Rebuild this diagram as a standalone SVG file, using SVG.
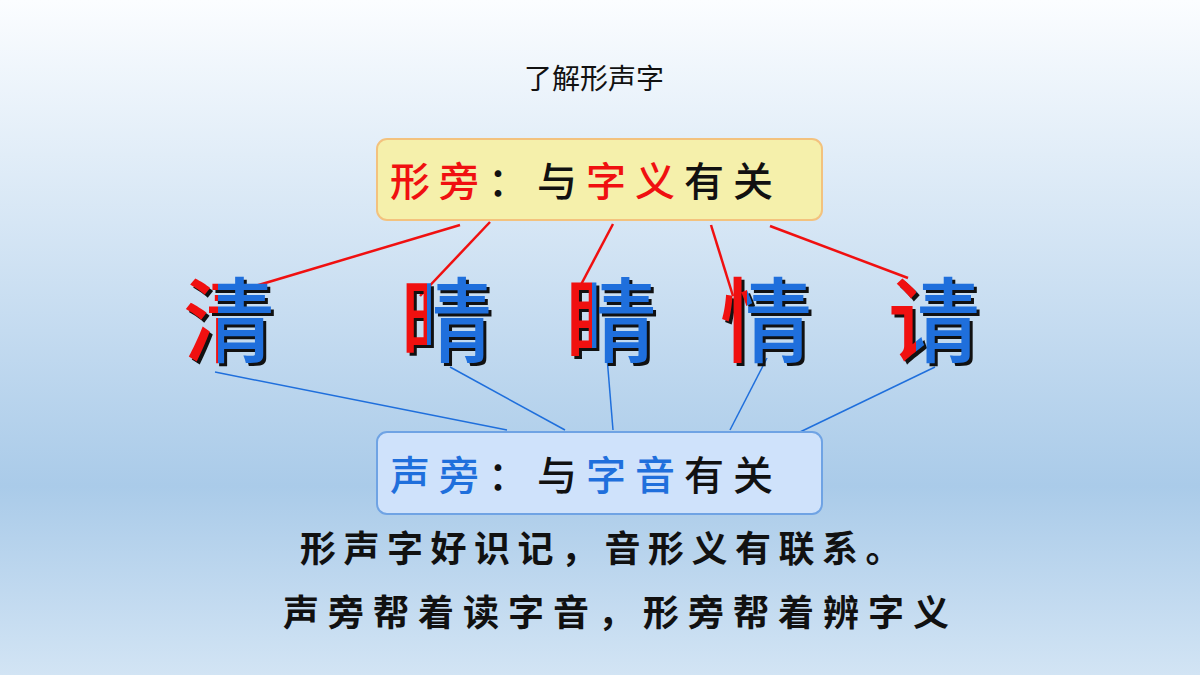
<svg xmlns="http://www.w3.org/2000/svg" width="1200" height="675" viewBox="0 0 1200 675">
<defs>
<linearGradient id="bg" x1="0" y1="0" x2="0" y2="1">
<stop offset="0" stop-color="#fbfdff"/><stop offset="0.72" stop-color="#aacbe9"/><stop offset="1" stop-color="#d2e4f4"/>
</linearGradient>
<clipPath id="c1l"><rect x="170" y="250" width="48" height="140"/></clipPath>
<clipPath id="c1r"><rect x="218" y="250" width="100" height="140"/></clipPath>
<clipPath id="c2l"><rect x="390" y="250" width="37" height="140"/></clipPath>
<clipPath id="c2r"><rect x="427" y="250" width="100" height="140"/></clipPath>
<clipPath id="c3l"><rect x="555" y="250" width="37" height="140"/></clipPath>
<clipPath id="c3r"><rect x="592" y="250" width="100" height="140"/></clipPath>
<clipPath id="c4l"><rect x="710" y="250" width="37" height="140"/></clipPath>
<clipPath id="c4r"><rect x="747" y="250" width="100" height="140"/></clipPath>
<clipPath id="c5l"><rect x="880" y="250" width="36" height="140"/></clipPath>
<clipPath id="c5r"><rect x="916" y="250" width="100" height="140"/></clipPath>
</defs>
<style>
.cjk{font-family:"Noto Sans CJK SC",sans-serif}
.big{font-family:"Noto Sans CJK SC",sans-serif;font-size:92px;font-weight:500}
.sh{fill:#111}
.r{fill:#f01010}.b{fill:#1f6fdc}
.rl{stroke:#f01010;stroke-width:2.5}.bl{stroke:#1f6fdc;stroke-width:1.5}
</style>
<rect width="1200" height="675" fill="url(#bg)"/>
<text x="594" y="89" text-anchor="middle" class="cjk" font-size="28" fill="#111">了解形声字</text>
<g id="connectors">
<line class="rl" x1="460" y1="225" x2="235" y2="292"/>
<line class="rl" x1="490" y1="222" x2="420" y2="296"/>
<line class="rl" x1="613" y1="224" x2="575" y2="296"/>
<line class="rl" x1="711" y1="225" x2="733" y2="296"/>
<line class="rl" x1="770" y1="226" x2="908" y2="278"/>
<line class="bl" x1="215" y1="372" x2="507" y2="430"/>
<line class="bl" x1="450" y1="367" x2="565" y2="430"/>
<line class="bl" x1="607" y1="357" x2="613" y2="430"/>
<line class="bl" x1="767" y1="358" x2="730" y2="430"/>
<line class="bl" x1="935" y1="367" x2="800" y2="432"/>
</g>
<g id="box-xing">
<rect x="377" y="139" width="445" height="81" rx="10" fill="#f5f0ab" stroke="#f3c27e" stroke-width="2"/>
<text x="390" y="196" class="cjk" font-size="40" font-weight="500" letter-spacing="9" fill="#111"><tspan fill="#f01010">形旁</tspan>：与<tspan fill="#f01010">字义</tspan>有关</text>
</g>
<g id="box-sheng">
<rect x="377" y="432" width="445" height="82" rx="10" fill="#cfe2fb" stroke="#6fa3e4" stroke-width="2"/>
<text x="390" y="490" class="cjk" font-size="40" font-weight="500" letter-spacing="9" fill="#111"><tspan fill="#1f6fdc">声旁</tspan>：与<tspan fill="#1f6fdc">字音</tspan>有关</text>
</g>
<g id="char-qing1">
<text x="186" y="358" class="big sh">清</text>
<text x="183" y="355" class="big r" clip-path="url(#c1l)">清</text>
<text x="183" y="355" class="big b" clip-path="url(#c1r)">清</text>
</g>
<g id="char-qing2">
<text x="403" y="358" class="big sh">晴</text>
<text x="400" y="355" class="big r" clip-path="url(#c2l)">晴</text>
<text x="400" y="355" class="big b" clip-path="url(#c2r)">晴</text>
</g>
<g id="char-jing">
<text x="568" y="358" class="big sh">睛</text>
<text x="565" y="355" class="big r" clip-path="url(#c3l)">睛</text>
<text x="565" y="355" class="big b" clip-path="url(#c3r)">睛</text>
</g>
<g id="char-qing3">
<text x="723" y="358" class="big sh">情</text>
<text x="720" y="355" class="big r" clip-path="url(#c4l)">情</text>
<text x="720" y="355" class="big b" clip-path="url(#c4r)">情</text>
</g>
<g id="char-qing4">
<text x="891" y="358" class="big sh">请</text>
<text x="888" y="355" class="big r" clip-path="url(#c5l)">请</text>
<text x="888" y="355" class="big b" clip-path="url(#c5r)">请</text>
</g>
<text x="300" y="562" class="cjk" font-size="36" font-weight="bold" fill="#111" letter-spacing="7.5">形声字好识记，音形义有联系。</text>
<text x="283" y="626" class="cjk" font-size="36" font-weight="bold" fill="#111" letter-spacing="9">声旁帮着读字音，形旁帮着辨字义</text>
</svg>
